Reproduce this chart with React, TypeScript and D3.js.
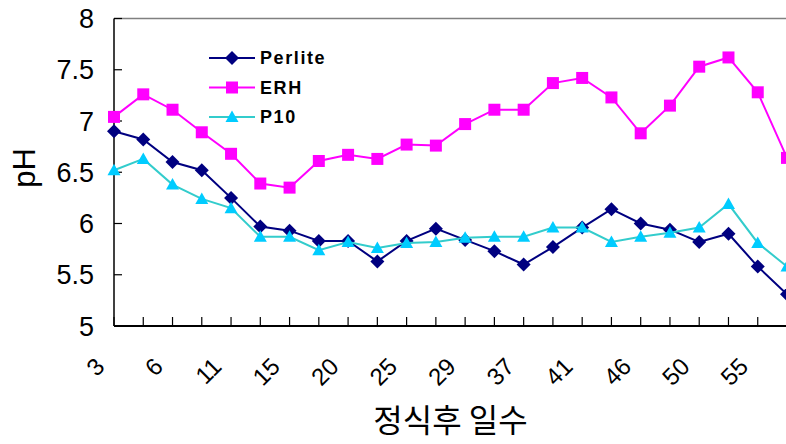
import React from 'react';
import * as d3 from 'd3';

// 정식후 일수 (every second label is shown on the axis)
const days = ['3', '4', '6', '8', '11', '13', '15', '18', '20', '22', '25', '27', '29', '33', '37', '39', '41', '44', '46', '48', '50', '53', '55', '57'];

const perlite = [6.90, 6.82, 6.60, 6.52, 6.25, 5.97, 5.93, 5.83, 5.83, 5.63, 5.83, 5.95, 5.84, 5.73, 5.60, 5.77, 5.96, 6.14, 6.00, 5.94, 5.82, 5.90, 5.58, 5.31];
const erh = [7.04, 7.26, 7.11, 6.89, 6.68, 6.39, 6.35, 6.61, 6.67, 6.63, 6.77, 6.76, 6.97, 7.11, 7.11, 7.37, 7.42, 7.23, 6.88, 7.15, 7.53, 7.62, 7.28, 6.64];
const p10 = [6.52, 6.63, 6.38, 6.24, 6.15, 5.87, 5.87, 5.74, 5.82, 5.76, 5.81, 5.82, 5.86, 5.87, 5.87, 5.96, 5.96, 5.82, 5.87, 5.91, 5.96, 6.19, 5.81, 5.58];

const yTicks = [5, 5.5, 6, 6.5, 7, 7.5, 8];

const W = 786;
const H = 444;
const left = 114;
const right = 787;
const top = 18.5;
const bottom = 326;

const numFont = '"Liberation Sans", Arial, sans-serif';

type Marker = 'diamond' | 'square' | 'triangle';

const series: { name: string; values: number[]; line: string; fill: string; marker: Marker }[] = [
  { name: 'Perlite', values: perlite, line: '#000080', fill: '#000080', marker: 'diamond' },
  { name: 'ERH', values: erh, line: '#FF00FF', fill: '#FF00FF', marker: 'square' },
  { name: 'P10', values: p10, line: '#33CCCC', fill: '#00CCFF', marker: 'triangle' },
];

const markerPath = (m: Marker) => {
  if (m === 'diamond') return 'M0,-7L7,0L0,7L-7,0Z';
  if (m === 'square') return 'M-6,-6H6V6H-6Z';
  return 'M0,-6.5L6.5,5L-6.5,5Z';
};

const App: React.FC = () => {
  const x = d3.scalePoint<number>().domain(days.map((_, i) => i)).range([left, right]);
  const y = d3.scaleLinear().domain([5, 8]).range([bottom, top]);

  const line = (vals: number[]) =>
    d3.line<number>().x((_, i) => x(i) as number).y(d => y(d))(vals) || '';

  return (
    <svg width={W} height={H} style={{ position: 'absolute', left: 0, top: 0, background: '#fff' }}>
      {/* top frame */}
      <line x1={left} x2={W} y1={top} y2={top} stroke="#808080" strokeWidth={1.5} />

      {/* y axis */}
      <line x1={left} x2={left} y1={top} y2={bottom} stroke="#000" strokeWidth={1.5} />
      {yTicks.map(t => (
        <g key={t}>
          <line x1={left} x2={left + 8} y1={y(t)} y2={y(t)} stroke="#000" strokeWidth={1.2} />
          <text x={94} y={y(t)} dy="0.36em" textAnchor="end" fontSize={27} fontFamily={numFont} fill="#000">
            {d3.format('~g')(t)}
          </text>
        </g>
      ))}

      {/* x axis */}
      <line x1={left} x2={W} y1={bottom} y2={bottom} stroke="#000" strokeWidth={1.8} />
      {days.map((d, i) => (
        <g key={i}>
          <line x1={x(i)} x2={x(i)} y1={bottom} y2={bottom - 9} stroke="#000" strokeWidth={1.2} />
          {i % 2 === 0 && (
            <text
              transform={`translate(${(x(i) as number) - 8},${368}) rotate(-45)`}
              textAnchor="end"
              fontSize={24}
              fontFamily={numFont}
              fill="#000"
            >
              {d}
            </text>
          )}
        </g>
      ))}

      {/* series */}
      {series.map(s => (
        <g key={s.name}>
          <path d={line(s.values)} fill="none" stroke={s.line} strokeWidth={2} />
          {s.values.map((v, i) => (
            <path key={i} d={markerPath(s.marker)} transform={`translate(${x(i)},${y(v)})`} fill={s.fill} />
          ))}
        </g>
      ))}

      {/* legend */}
      {series.map((s, i) => {
        const ly = 58 + i * 29.5;
        return (
          <g key={s.name}>
            <line x1={209} x2={255} y1={ly} y2={ly} stroke={s.line} strokeWidth={2} />
            <path d={markerPath(s.marker)} transform={`translate(232,${ly})`} fill={s.fill} />
            <text x={260} y={ly} dy="0.36em" fontSize={18} fontWeight="bold" letterSpacing={1.6} fontFamily={numFont} fill="#000">
              {s.name}
            </text>
          </g>
        );
      })}

      {/* axis titles */}
      <text
        transform={`translate(35,168) rotate(-90)`}
        textAnchor="middle"
        fontSize={31}
        fontFamily={numFont}
        fill="#000"
      >
        pH
      </text>
      <text
        x={(left + right) / 2}
        y={432}
        textAnchor="middle"
        fontSize={32}
        fontFamily='"Noto Sans CJK KR", sans-serif'
        fill="#000"
      >
        정식후 일수
      </text>
    </svg>
  );
};

export default App;
